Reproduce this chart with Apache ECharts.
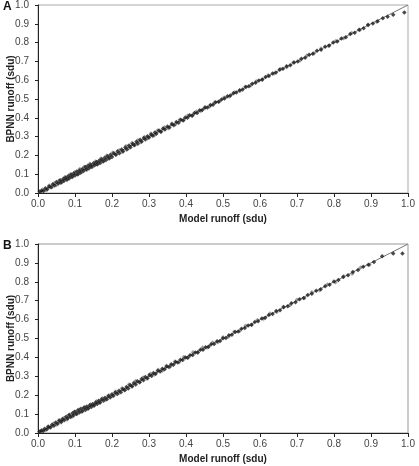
<!DOCTYPE html>
<html>
<head>
<meta charset="utf-8">
<script src="https://cdn.jsdelivr.net/npm/echarts@6/dist/echarts.min.js"></script>
<style>
html, body { margin: 0; padding: 0; background: #fff; }
#chart { width: 419px; height: 466px; }
</style>
</head>
<body>
<div id="chart"></div>
<script>
var diag = [0, 1];

// panel A: model runoff vs BPNN runoff (filled markers)
var aModel = [0.005,0.01,0.015,0.02,0.025,0.03,0.035,0.04,0.045,0.05,0.055,0.06,0.062,0.068,0.07,0.075,0.078,0.082,0.085,0.09,
  0.092,0.097,0.1,0.105,0.108,0.112,0.115,0.12,0.123,0.128,0.13,0.135,0.138,0.142,0.145,0.15,0.153,0.158,0.16,0.165,
  0.168,0.172,0.176,0.18,0.184,0.188,0.192,0.196,0.2,0.205,0.21,0.215,0.22,0.226,0.23,0.236,0.24,0.246,0.25,0.256,
  0.26,0.266,0.27,0.276,0.28,0.286,0.29,0.296,0.3,0.306,0.31,0.316,0.32,0.327,0.332,0.338,0.343,0.35,0.355,0.362,
  0.367,0.374,0.38,0.386,0.392,0.398,0.404,0.41,0.417,0.423,0.43,0.437,0.444,0.451,0.458,0.466,0.473,0.48,0.488,0.496,
  0.504,0.512,0.52,0.528,0.536,0.545,0.553,0.562,0.57,0.579,0.588,0.597,0.606,0.615,0.624,0.634,0.643,0.653,0.662,0.672,
  0.682,0.692,0.702,0.712,0.722,0.733,0.743,0.754,0.765,0.776,0.787,0.798,0.809,0.82,0.832,0.844,0.856,0.868,0.88,0.892,
  0.905,0.918,0.932,0.945,0.96,0.99];
var aBpnn = [0.008,0.012,0.01,0.025,0.02,0.034,0.03,0.046,0.04,0.058,0.05,0.068,0.055,0.075,0.064,0.082,0.07,0.09,0.078,0.098,
  0.085,0.105,0.093,0.114,0.1,0.12,0.108,0.128,0.117,0.138,0.125,0.145,0.132,0.15,0.14,0.158,0.147,0.165,0.152,0.172,
  0.16,0.18,0.168,0.188,0.176,0.195,0.184,0.204,0.192,0.212,0.203,0.222,0.212,0.232,0.222,0.242,0.232,0.252,0.243,0.262,
  0.254,0.272,0.262,0.283,0.274,0.292,0.284,0.302,0.295,0.311,0.305,0.322,0.315,0.332,0.326,0.343,0.338,0.354,0.349,0.366,
  0.361,0.378,0.374,0.39,0.386,0.402,0.4,0.414,0.412,0.426,0.426,0.44,0.441,0.454,0.455,0.468,0.47,0.483,0.486,0.498,
  0.502,0.514,0.518,0.53,0.534,0.547,0.551,0.564,0.568,0.581,0.586,0.599,0.604,0.617,0.623,0.636,0.641,0.655,0.661,0.674,
  0.68,0.694,0.7,0.714,0.72,0.735,0.741,0.756,0.762,0.778,0.785,0.8,0.806,0.822,0.829,0.846,0.852,0.869,0.876,0.893,
  0.902,0.914,0.93,0.938,0.948,0.96];
// panel A (grey markers)
var aModel2 = [0.012,0.022,0.03,0.038,0.044,0.05,0.057,0.065,0.072,0.08,0.087,0.094,0.1,0.107,0.113,0.118,0.125,0.133,0.14,0.147,
  0.155,0.162,0.17,0.178,0.186,0.194,0.202,0.212,0.22,0.228,0.238,0.245,0.254,0.262,0.27,0.278,0.288,0.296,0.305,0.314,
  0.323,0.333,0.342,0.352,0.362,0.372,0.383,0.394,0.405,0.416,0.428,0.44,0.452,0.464,0.477,0.49,0.503,0.517,0.531,0.546,
  0.56,0.575,0.59,0.606,0.622,0.638,0.655,0.672,0.69,0.708,0.727,0.746,0.765,0.785,0.805,0.826,0.848,0.87,0.892,0.915];
var aBpnn2 = [0.018,0.015,0.04,0.03,0.052,0.043,0.066,0.058,0.084,0.073,0.1,0.088,0.112,0.098,0.128,0.112,0.14,0.124,0.155,0.138,
  0.168,0.155,0.184,0.17,0.2,0.186,0.216,0.205,0.228,0.218,0.25,0.238,0.266,0.255,0.28,0.27,0.298,0.29,0.316,0.306,
  0.333,0.326,0.35,0.345,0.37,0.366,0.39,0.388,0.412,0.41,0.434,0.436,0.458,0.46,0.482,0.487,0.508,0.513,0.536,0.543,
  0.565,0.572,0.595,0.603,0.626,0.635,0.659,0.669,0.694,0.705,0.731,0.743,0.769,0.782,0.809,0.823,0.851,0.867,0.895,0.911];

// panel B (filled markers)
var bModel = [0.004,0.009,0.014,0.018,0.024,0.028,0.033,0.038,0.043,0.048,0.053,0.058,0.063,0.066,0.071,0.076,0.08,0.084,0.088,0.093,
  0.096,0.1,0.104,0.108,0.112,0.116,0.12,0.124,0.128,0.132,0.136,0.14,0.144,0.148,0.152,0.156,0.16,0.164,0.168,0.172,
  0.177,0.181,0.186,0.19,0.195,0.2,0.204,0.209,0.214,0.219,0.224,0.229,0.234,0.239,0.244,0.249,0.254,0.259,0.264,0.269,
  0.275,0.28,0.285,0.29,0.296,0.301,0.307,0.312,0.318,0.324,0.33,0.336,0.342,0.348,0.354,0.36,0.366,0.372,0.378,0.385,
  0.391,0.398,0.404,0.411,0.418,0.425,0.432,0.439,0.446,0.453,0.461,0.468,0.476,0.484,0.492,0.5,0.508,0.516,0.524,0.533,
  0.541,0.55,0.559,0.568,0.577,0.586,0.595,0.605,0.614,0.624,0.634,0.644,0.654,0.664,0.675,0.685,0.696,0.707,0.718,0.729,
  0.74,0.752,0.764,0.776,0.788,0.8,0.812,0.825,0.838,0.851,0.865,0.879,0.893,0.908,0.93,0.96,0.985];
var bBpnn = [0.006,0.012,0.011,0.022,0.02,0.033,0.029,0.044,0.038,0.055,0.049,0.066,0.06,0.074,0.068,0.086,0.077,0.095,0.085,0.104,
  0.092,0.112,0.1,0.12,0.108,0.128,0.115,0.134,0.122,0.14,0.13,0.147,0.138,0.154,0.146,0.162,0.153,0.17,0.161,0.178,
  0.17,0.187,0.179,0.196,0.188,0.205,0.197,0.214,0.206,0.223,0.216,0.233,0.226,0.244,0.236,0.254,0.246,0.264,0.257,0.274,
  0.268,0.286,0.279,0.296,0.29,0.307,0.302,0.318,0.313,0.329,0.325,0.34,0.337,0.352,0.349,0.364,0.361,0.376,0.373,0.387,
  0.386,0.399,0.398,0.412,0.413,0.426,0.427,0.44,0.441,0.454,0.456,0.469,0.471,0.485,0.487,0.501,0.503,0.517,0.52,0.534,
  0.537,0.551,0.555,0.569,0.573,0.587,0.591,0.606,0.61,0.625,0.63,0.645,0.65,0.665,0.671,0.686,0.692,0.708,0.714,0.73,
  0.737,0.753,0.76,0.777,0.785,0.801,0.809,0.826,0.835,0.852,0.862,0.879,0.89,0.905,0.935,0.95,0.95];
// panel B (grey markers)
var bModel2 = [0.01,0.02,0.027,0.035,0.042,0.05,0.056,0.062,0.07,0.078,0.085,0.092,0.098,0.105,0.111,0.118,0.126,0.134,0.142,0.15,
  0.158,0.166,0.174,0.183,0.192,0.2,0.21,0.218,0.227,0.236,0.246,0.255,0.264,0.274,0.284,0.294,0.304,0.315,0.325,0.336,
  0.347,0.358,0.37,0.382,0.394,0.406,0.419,0.432,0.445,0.458,0.472,0.486,0.5,0.515,0.53,0.545,0.561,0.577,0.593,0.61,
  0.627,0.645,0.663,0.681,0.7,0.72,0.74,0.761,0.782,0.804,0.826,0.849,0.872,0.896];
var bBpnn2 = [0.016,0.014,0.035,0.03,0.05,0.044,0.066,0.056,0.08,0.072,0.097,0.086,0.112,0.1,0.125,0.112,0.138,0.128,0.152,0.144,
  0.168,0.16,0.184,0.176,0.2,0.194,0.22,0.211,0.237,0.229,0.256,0.249,0.275,0.268,0.294,0.288,0.314,0.309,0.334,0.33,
  0.356,0.352,0.378,0.376,0.402,0.4,0.427,0.425,0.452,0.452,0.479,0.48,0.506,0.509,0.536,0.54,0.567,0.572,0.598,0.605,
  0.632,0.64,0.668,0.676,0.705,0.714,0.745,0.755,0.786,0.798,0.83,0.843,0.876,0.89];

function pairs(xs, ys) {
  return xs.map(function (x, i) { return [x, ys[i]]; });
}

var chart = echarts.init(document.getElementById('chart'));
var font = 'Liberation Sans, Arial, sans-serif';

function xAx(idx) {
  return {
    gridIndex: idx, type: 'value', min: 0, max: 1, interval: 0.1,
    name: 'Model runoff (sdu)', nameLocation: 'middle', nameGap: 21, nameMoveOverlap: false,
    nameTextStyle: { fontFamily: font, fontSize: 10, fontWeight: 'bold', color: '#222' },
    axisLine: { lineStyle: { color: '#222', width: 1 } },
    axisTick: { show: true, length: 4, lineStyle: { color: '#222' } },
    axisLabel: { fontFamily: font, fontSize: 10, color: '#444', margin: 6, formatter: function (v) { return v.toFixed(1); } },
    splitLine: { show: false }
  };
}
function yAx(idx) {
  return {
    gridIndex: idx, type: 'value', min: 0, max: 1, interval: 0.1,
    name: 'BPNN runoff (sdu)', nameLocation: 'middle', nameGap: 22, nameMoveOverlap: false,
    nameTextStyle: { fontFamily: font, fontSize: 10, fontWeight: 'bold', color: '#222' },
    axisLine: { show: true, lineStyle: { color: '#222', width: 1 } },
    axisTick: { show: true, length: 3, lineStyle: { color: '#222' } },
    axisLabel: { fontFamily: font, fontSize: 10, color: '#444', margin: 9, formatter: function (v) { return v.toFixed(1); } },
    splitLine: { show: false }
  };
}

function diagSeries(idx) {
  return { type: 'line', xAxisIndex: idx, yAxisIndex: idx, data: [[diag[0], diag[0]], [diag[1], diag[1]]],
    symbol: 'none', lineStyle: { color: '#777', width: 1 }, z: 1 };
}
function filled(idx, xs, ys) {
  return { type: 'scatter', xAxisIndex: idx, yAxisIndex: idx, data: pairs(xs, ys),
    symbol: 'diamond', symbolSize: 4.5, itemStyle: { color: '#1a1a1a' }, z: 3 };
}
function grey(idx, xs, ys) {
  return { type: 'scatter', xAxisIndex: idx, yAxisIndex: idx, data: pairs(xs, ys),
    symbol: 'diamond', symbolSize: 4.5, itemStyle: { color: '#8a8a8a' }, z: 2 };
}

var option = {
  animation: false,
  backgroundColor: '#fff',
  title: [
    { text: 'A', left: 3, top: 1, padding: 0, textStyle: { fontFamily: font, fontSize: 12, fontWeight: 'bold', color: '#111' } },
    { text: 'B', left: 3, top: 240, padding: 0, textStyle: { fontFamily: font, fontSize: 12, fontWeight: 'bold', color: '#111' } }
  ],
  grid: [
    { left: 38, top: 5, width: 370, height: 188, outerBoundsMode: 'none', containLabel: false,
      show: true, borderColor: '#aaa', borderWidth: 1, backgroundColor: '#fff' },
    { left: 38, top: 244, width: 370, height: 189, outerBoundsMode: 'none', containLabel: false,
      show: true, borderColor: '#999', borderWidth: 1, backgroundColor: '#fff' }
  ],
  xAxis: [xAx(0), xAx(1)],
  yAxis: [yAx(0), yAx(1)],
  series: [
    diagSeries(0), diagSeries(1),
    grey(0, aModel2, aBpnn2), grey(1, bModel2, bBpnn2),
    filled(0, aModel, aBpnn), filled(1, bModel, bBpnn)
  ]
};
chart.setOption(option);
</script>
</body>
</html>
